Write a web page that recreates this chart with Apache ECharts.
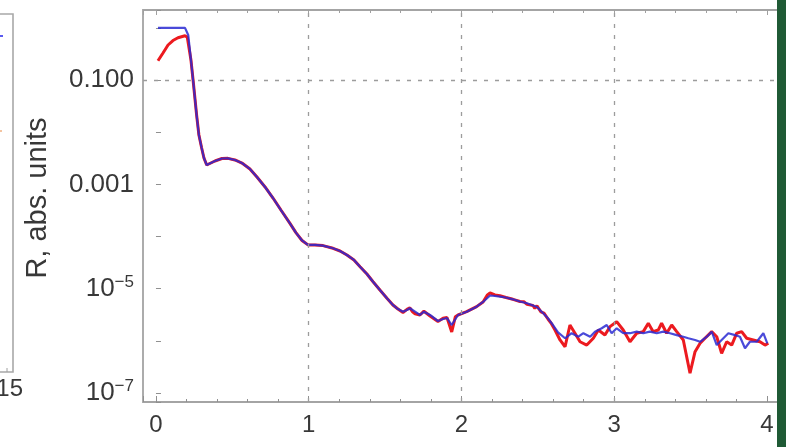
<!DOCTYPE html>
<html>
<head>
<meta charset="utf-8">
<script src="https://cdn.jsdelivr.net/npm/echarts@6/dist/echarts.min.js"></script>
<style>
  html, body { margin: 0; padding: 0; background: #ffffff; }
  #chart { width: 786px; height: 447px; }
</style>
</head>
<body>
<div id="chart"></div>
<script>
// Reflectivity R versus q: model curve (blue) and measured data (red)
const qModel = [
  0.013, 0.19, 0.211, 0.229, 0.244, 0.266, 0.281, 0.299, 0.314, 0.332,
  0.342, 0.386, 0.432, 0.471, 0.517, 0.563, 0.615, 0.661, 0.714, 0.766,
  0.818, 0.877, 0.916, 0.956, 0.995, 1.041, 1.093, 1.159, 1.205, 1.25,
  1.296, 1.336, 1.381, 1.421, 1.466, 1.512, 1.551, 1.584, 1.617, 1.643,
  1.662, 1.696, 1.728, 1.754, 1.794, 1.846, 1.879, 1.905, 1.936, 1.977,
  2.034, 2.099, 2.141, 2.187, 2.219, 2.252, 2.291, 2.337, 2.383, 2.429,
  2.468, 2.494, 2.52, 2.54,
  2.566, 2.599, 2.632, 2.678, 2.721, 2.765, 2.798, 2.842, 2.874, 2.918,
  2.951, 2.983, 3.016, 3.059, 3.103, 3.147, 3.19, 3.233, 3.278, 3.321,
  3.365, 3.409, 3.452, 3.485, 3.529, 3.562, 3.606, 3.638, 3.671, 3.703,
  3.747, 3.791, 3.823, 3.856, 3.888, 3.933, 3.976, 4.002
];
const rModel = [
  1.0, 1.0, 0.73, 0.241, 0.0927, 0.0213, 0.00883, 0.00498, 0.0032, 0.00235,
  0.00245, 0.0028, 0.00313, 0.00315, 0.00293, 0.00256, 0.00197, 0.00138, 0.00089, 0.000547,
  0.000322, 0.000179, 0.000119, 8.4e-5, 6.9e-5, 6.9e-5, 6.7e-5, 5.94e-5, 5.27e-5, 4.42e-5,
  3.55e-5, 2.64e-5, 1.91e-5, 1.36e-5, 9.4e-6, 6.55e-6, 4.87e-6, 4.07e-6, 3.62e-6, 3.9e-6,
  4.21e-6, 3.62e-6, 3.13e-6, 3.62e-6, 3.13e-6, 2.4e-6, 2.62e-6, 2.74e-6, 2.01e-6, 3.13e-6,
  3.62e-6, 4.52e-6, 5.56e-6, 7.4e-6, 7.24e-6, 7.02e-6, 6.77e-6, 6.25e-6, 5.67e-6, 5.25e-6,
  4.76e-6, 4.46e-6, 3.73e-6, 3.27e-6,
  2.7e-6, 2.01e-6, 1.45e-6, 1.12e-6, 1.4e-6, 1.2e-6, 1.4e-6, 1.2e-6, 1.5e-6, 1.74e-6,
  2.01e-6, 1.4e-6, 1.74e-6, 1.4e-6, 1.4e-6, 1.5e-6, 1.4e-6, 1.5e-6, 1.4e-6, 1.5e-6,
  1.4e-6, 1.29e-6, 1.2e-6, 1.12e-6, 1.04e-6, 9.6e-7, 1.2e-6, 1.5e-6, 8.3e-7, 1.04e-6,
  1.4e-6, 1.29e-6, 1.2e-6, 7.2e-7, 9.6e-7, 9.6e-7, 1.4e-6, 8.97e-7
];
const qMeas = [
  0.013, 0.046, 0.079, 0.111, 0.144, 0.19, 0.205, 0.229, 0.244, 0.266,
  0.281, 0.299, 0.314, 0.332, 0.342, 0.386, 0.432, 0.471, 0.517, 0.563,
  0.615, 0.661, 0.714, 0.766, 0.818, 0.877, 0.916, 0.956, 0.995, 1.041,
  1.093, 1.159, 1.205, 1.25, 1.296, 1.336, 1.381, 1.421, 1.466, 1.512,
  1.551, 1.584, 1.617, 1.643, 1.662, 1.68, 1.696, 1.728, 1.754, 1.794,
  1.846, 1.879, 1.905, 1.936, 1.96, 1.977, 2.034, 2.099, 2.141, 2.17,
  2.187, 2.219, 2.252, 2.291, 2.337, 2.383, 2.41, 2.429, 2.468, 2.48,
  2.494, 2.52, 2.54,
  2.566, 2.586, 2.612, 2.645, 2.678, 2.71, 2.743, 2.776, 2.82, 2.863,
  2.896, 2.939, 2.972, 3.016, 3.059, 3.103, 3.147, 3.19, 3.223, 3.255,
  3.288, 3.31, 3.343, 3.376, 3.409, 3.452, 3.496, 3.529, 3.562, 3.594,
  3.638, 3.671, 3.703, 3.736, 3.769, 3.802, 3.834, 3.867, 3.91, 3.954,
  3.987, 4.009
];
const rMeas = [
  0.234, 0.33, 0.469, 0.571, 0.647, 0.706, 0.66, 0.241, 0.0927, 0.0213,
  0.00883, 0.00498, 0.0032, 0.00235, 0.00245, 0.0028, 0.00313, 0.00315, 0.00293, 0.00256,
  0.00197, 0.00138, 0.00089, 0.000547, 0.000322, 0.000179, 0.000119, 8.4e-5, 6.9e-5, 6.9e-5,
  6.7e-5, 5.94e-5, 5.27e-5, 4.42e-5, 3.55e-5, 2.64e-5, 1.91e-5, 1.36e-5, 9.4e-6, 6.55e-6,
  4.87e-6, 4.07e-6, 3.5e-6, 4.0e-6, 4.3e-6, 3.6e-6, 3.3e-6, 3.13e-6, 3.7e-6, 3.0e-6,
  2.35e-6, 2.7e-6, 2.8e-6, 1.48e-6, 2.9e-6, 3.13e-6, 3.62e-6, 4.52e-6, 5.56e-6, 7.6e-6,
  8.3e-6, 7.6e-6, 7.3e-6, 6.77e-6, 6.25e-6, 5.67e-6, 5.6e-6, 5.0e-6, 4.76e-6, 4.2e-6,
  4.7e-6, 3.6e-6, 3.4e-6,
  2.62e-6, 2.2e-6, 1.61e-6, 1.04e-6, 7.7e-7, 2.01e-6, 1.4e-6, 9.6e-7, 8.3e-7, 1.12e-6,
  1.61e-6, 1.29e-6, 1.87e-6, 2.33e-6, 1.61e-6, 9.6e-7, 1.4e-6, 1.5e-6, 2.17e-6, 1.5e-6,
  1.61e-6, 2.17e-6, 1.4e-6, 2.01e-6, 1.5e-6, 1.04e-6, 2.39e-7, 6.2e-7, 8.97e-7, 1.12e-6,
  1.5e-6, 1.2e-6, 5.77e-7, 9.6e-7, 8.3e-7, 1.4e-6, 1.5e-6, 1.12e-6, 1.04e-6, 9.6e-7,
  8.3e-7, 8.97e-7
];

// Axis ticks and grid positions
const xTickValues = [0, 1, 2, 3, 4];
const xTickLabels = ['0', '1', '2', '3', '4'];
const xGridValues = [1, 2, 3];
const yTickExponents = [-7, -5, -3, -1];
const yTickLabels = ['{b|10}{s|\u22127}', '{b|10}{s|\u22125}', '0.001', '0.100'];
const yGridValues = [1e-7, 1e-5, 1e-3, 0.1];
const yAxisTitle = 'R, abs. units';

const zip = (xs, ys) => xs.map((x, i) => [x, ys[i]]);

const gridColor = '#9c9c9c';
const frameColor = '#a4a4a4';
const textColor = '#383838';
const font = '"Liberation Sans", Arial, sans-serif';

const chart = echarts.init(document.getElementById('chart'), null, { renderer: 'canvas' });

chart.setOption({
  backgroundColor: '#ffffff',
  animation: false,
  grid: {
    left: 143, top: 10, right: 8, bottom: 45,
    show: true, borderColor: frameColor, borderWidth: 1.8, backgroundColor: '#ffffff'
  },
  xAxis: [{
    type: 'value', min: -0.085, max: 4.072,
    axisLine: { show: false },
    axisTick: { show: true, inside: true, length: 6, lineStyle: { color: '#909090', width: 1 } },
    minorTick: { show: true, splitNumber: 5, length: 3, lineStyle: { color: '#909090', width: 1 } },
    splitLine: { show: false },
    axisLabel: {
      margin: 11, color: textColor, fontSize: 24, fontFamily: font,
      formatter: function (v) {
        const i = xTickValues.indexOf(Math.round(v * 1000) / 1000);
        return i >= 0 ? xTickLabels[i] : '';
      }
    }
  }, {
    type: 'value', position: 'top', min: -0.085, max: 4.072,
    axisLine: { show: false },
    axisTick: { show: true, inside: true, length: 5, lineStyle: { color: '#a0a0a0', width: 1 } },
    minorTick: { show: true, splitNumber: 5, length: 3, lineStyle: { color: '#a0a0a0', width: 1 } },
    splitLine: { show: false },
    axisLabel: { show: false }
  }],
  yAxis: {
    type: 'log', logBase: 10, min: 6.72e-8, max: 2.2,
    name: yAxisTitle, nameLocation: 'middle', nameRotate: 90, nameGap: 91,
    nameTextStyle: { color: textColor, fontSize: 29, fontFamily: font, padding: [0, 0, 0, 16] },
    axisLine: { show: false },
    axisTick: { show: true, inside: true, length: 5, lineStyle: { color: '#909090', width: 1 } },
    splitLine: { show: false },
    axisLabel: {
      margin: 9, color: textColor, fontSize: 26, fontFamily: font,
      rich: {
        b: { fontSize: 26, fontFamily: font, color: textColor, lineHeight: 30 },
        s: { fontSize: 17, fontFamily: font, color: textColor, lineHeight: 17, verticalAlign: 'top' }
      },
      formatter: function (v) {
        const e = Math.log10(v);
        const n = Math.round(e);
        if (Math.abs(e - n) > 1e-6) return '';
        const i = yTickExponents.indexOf(n);
        return i >= 0 ? yTickLabels[i] : '';
      }
    }
  },
  series: [
    {
      name: 'grid', type: 'line', data: [], z: 1, silent: true,
      markLine: {
        silent: true, symbol: ['none', 'none'], animation: false,
        label: { show: false },
        lineStyle: { color: gridColor, width: 1.3, type: [4, 7] },
        data: yGridValues.map(v => ({ yAxis: v })).concat(xGridValues.map(v => ({ xAxis: v })))
      }
    },
    {
      name: 'measured', type: 'line', data: zip(qMeas, rMeas), z: 3,
      showSymbol: false, symbol: 'none',
      lineStyle: { color: '#ec1a1f', width: 3 }
    },
    {
      name: 'model', type: 'line', data: zip(qModel, rModel), z: 4,
      showSymbol: false, symbol: 'none',
      lineStyle: { color: '#2a2ad2', width: 2.2, opacity: 0.85 }
    }
  ],
  graphic: [
    // neighbouring panel edge on the left
    { type: 'polyline', shape: { points: [[0, 14], [13, 14], [13, 372], [0, 372]] },
      style: { stroke: '#a8a8a8', lineWidth: 1.6, fill: null } },
    { type: 'line', shape: { x1: 7, y1: 372, x2: 7, y2: 368 }, style: { stroke: '#a0a0a0', lineWidth: 1 } },
    { type: 'line', shape: { x1: 0, y1: 36, x2: 3, y2: 36 }, style: { stroke: '#5a5af0', lineWidth: 2 } },
    { type: 'line', shape: { x1: 0, y1: 131, x2: 2, y2: 131 }, style: { stroke: '#f0b080', lineWidth: 1.5 } },
    { type: 'text', x: 23, y: 389,
      style: { text: '15', fill: textColor, font: '24px ' + font, align: 'right', verticalAlign: 'middle' } },
    // green edge on the right
    { type: 'rect', shape: { x: 777, y: 0, width: 9, height: 447 },
      style: { fill: '#1f5a35' }, z: 100 }
  ]
});
</script>
</body>
</html>
